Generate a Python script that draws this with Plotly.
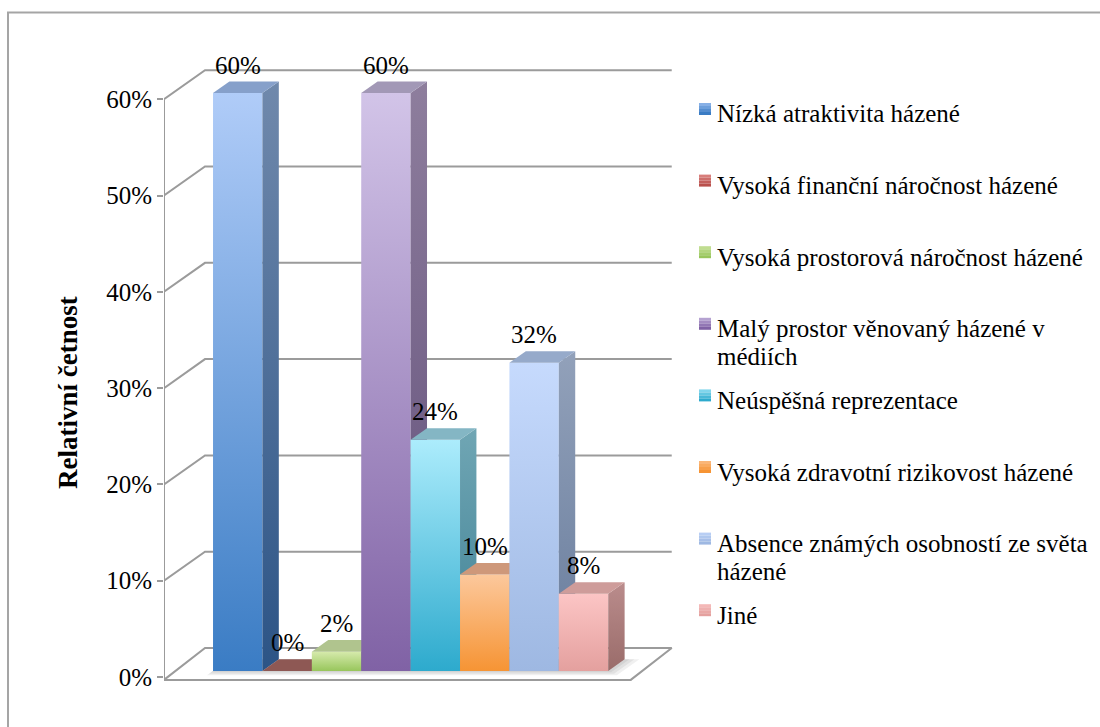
import textwrap
import plotly.graph_objects as go

# ---- data -------------------------------------------------------------
categories = [
    "Nízká atraktivita házené",
    "Vysoká finanční náročnost házené",
    "Vysoká prostorová náročnost házené",
    "Malý prostor věnovaný házené v médiích",
    "Neúspěšná reprezentace",
    "Vysoká zdravotní rizikovost házené",
    "Absence známých osobností ze světa házené",
    "Jiné",
]
values = [60, 0, 2, 60, 24, 10, 32, 8]
y_ticks = [0, 10, 20, 30, 40, 50, 60]
y_tick_labels = ["0%", "10%", "20%", "30%", "40%", "50%", "60%"]
axis_title = "Relativní četnost"

# ---- styling: (front bottom, front top, side bottom, side top, top face)
bar_styles = [
    ((58, 124, 196), (176, 204, 248), (44, 84, 134), (112, 137, 172), (134, 160, 202)),
    ((185, 80, 76), (232, 150, 148), (120, 60, 58), (150, 95, 92), (142, 88, 84)),
    ((152, 198, 92), (214, 234, 172), (110, 140, 70), (150, 175, 120), (176, 196, 142)),
    ((128, 98, 165), (210, 196, 232), (95, 76, 120), (142, 126, 157), (162, 152, 182)),
    ((45, 170, 205), (172, 236, 252), (62, 128, 148), (112, 166, 180), (132, 182, 196)),
    ((246, 148, 52), (252, 200, 156), (165, 110, 75), (195, 140, 105), (206, 152, 122)),
    ((158, 184, 226), (198, 218, 253), (104, 124, 156), (146, 161, 186), (150, 170, 202)),
    ((228, 160, 158), (252, 197, 197), (154, 108, 106), (186, 140, 140), (206, 156, 154)),
]

FONT = "Liberation Serif, Times New Roman, DejaVu Serif, serif"
GRID = "rgb(155,155,155)"


def rgb(c):
    return "rgb(%d,%d,%d)" % tuple(round(v) for v in c)


def mix(a, b, t):
    return tuple(a[k] + (b[k] - a[k]) * t for k in range(3))


# ---- figure geometry --------------------------------------------------
W, H = 1100, 727
ML, MR, MT, MB = 164, 420, 59, 43
PW, PH = W - ML - MR, H - MT - MB
X_PX, Y_PX = 49.4, 9.63           # pixels per bar slot / per percentage point
ZERO_PX = 677                     # pixel row of 0 % on the front plane
X_LEFT, X_RIGHT = -0.818, 8.63    # side wall and right floor edge
X_RANGE = [X_LEFT, X_LEFT + PW / X_PX]
Y_BOTTOM = (ZERO_PX - (MT + PH)) / Y_PX
Y_RANGE = [Y_BOTTOM, Y_BOTTOM + PH / Y_PX]

# oblique projection of the depth axis
DX, DY = 0.83, 3.01
Z_FRONT, Z_BACK = 0.21, 0.61
FLOOR_LIP = -0.3


def proj(x, y, z):
    return x + z * DX, y + z * DY


def poly(points):
    pts = [proj(*p) for p in points]
    pts.append(pts[0])
    return [p[0] for p in pts], [p[1] for p in pts]


def paper_x(px):
    return (px - ML) / PW


def paper_y(py):
    return (MT + PH - py) / PH


fig = go.Figure()

# side wall / back wall gridlines
gx, gy = [], []
for t in y_ticks[1:]:
    for p in [(X_LEFT, t, 0), (X_LEFT, t, 1), (X_RIGHT, t, 1)]:
        x, y = proj(*p)
        gx.append(x)
        gy.append(y)
    gx.append(None)
    gy.append(None)
fig.add_trace(go.Scatter(x=gx, y=gy, mode="lines", line=dict(color=GRID, width=2),
                         hoverinfo="skip", showlegend=False))

# floor
fx, fy = poly([(X_LEFT, FLOOR_LIP, 0), (X_RIGHT, FLOOR_LIP, 0), (X_RIGHT, 0, 1), (X_LEFT, 0, 1)])
fig.add_trace(go.Scatter(x=fx, y=fy, mode="lines", fill="toself", fillcolor="white",
                         line=dict(color=GRID, width=2), hoverinfo="skip", showlegend=False))

# soft shadow of the column block on the floor
n_bars = len(values)
for grow in (0.30, 0.20, 0.10):
    sx, sy = poly([(0, 0, Z_FRONT - grow * 0.5), (n_bars + grow, 0, Z_FRONT - grow * 0.5),
                   (n_bars + grow, 0, Z_BACK), (0, 0, Z_BACK)])
    fig.add_trace(go.Scatter(x=sx, y=sy, mode="lines", fill="toself",
                             fillcolor="rgba(0,0,0,0.06)", line=dict(width=0),
                             hoverinfo="skip", showlegend=False))

# vertical value axis line at the front edge
ax0 = proj(X_LEFT, FLOOR_LIP, 0)
ax1 = proj(X_LEFT, y_ticks[-1], 0)
fig.add_trace(go.Scatter(x=[ax0[0], ax1[0]], y=[ax0[1], ax1[1]], mode="lines",
                         line=dict(color=GRID, width=2), hoverinfo="skip", showlegend=False))


def face_trace(points, color=None, grad=None):
    xs, ys = poly(points)
    kw = dict(x=xs, y=ys, mode="lines", fill="toself", line=dict(width=0),
              hoverinfo="skip", showlegend=False)
    if grad is not None:
        kw["fillgradient"] = dict(type="vertical",
                                  colorscale=[[0, rgb(grad[0])], [1, rgb(grad[1])]])
    else:
        kw["fillcolor"] = rgb(color)
    return go.Scatter(**kw)


# 3D columns, painted left to right
for i, v in enumerate(values):
    fb, ft, sb, st, tc = bar_styles[i]
    x0, x1 = i, i + 1
    if v > 0:
        fig.add_trace(face_trace([(x0, 0, Z_FRONT), (x1, 0, Z_FRONT), (x1, v, Z_FRONT), (x0, v, Z_FRONT)],
                                 grad=(fb, ft)))
        fig.add_trace(face_trace([(x1, 0, Z_FRONT), (x1, 0, Z_BACK), (x1, v, Z_BACK), (x1, v, Z_FRONT)],
                                 grad=(sb, st)))
    fig.add_trace(face_trace([(x0, v, Z_FRONT), (x1, v, Z_FRONT), (x1, v, Z_BACK), (x0, v, Z_BACK)],
                             color=tc))

# value labels
for i, v in enumerate(values):
    lx, ly = proj(i + 0.5, v, Z_FRONT)
    fig.add_annotation(x=lx, y=ly, xref="x", yref="y", text=f"{v}%", showarrow=False,
                       yshift=28, font=dict(family=FONT, size=25, color="black"))

# legend: gradient swatch + wrapped label
LEG_TOP, LEG_STEP, LEG_LINE, SW = 103, 71.6, 27.5, 12
STRIPES = 4
for k, name in enumerate(categories):
    top = LEG_TOP + k * LEG_STEP
    fb, ft = bar_styles[k][0], bar_styles[k][1]
    for s in range(STRIPES):
        c = mix(mix(ft, fb, 0.35), fb, s / (STRIPES - 1))
        fig.add_shape(type="rect", xref="paper", yref="paper", layer="above",
                      x0=paper_x(699), x1=paper_x(699 + SW),
                      y0=paper_y(top + SW * (s + 1) / STRIPES), y1=paper_y(top + SW * s / STRIPES),
                      fillcolor=rgb(c), line=dict(width=0))
    for j, line in enumerate(textwrap.wrap(name, 34)):
        fig.add_annotation(x=paper_x(715), y=paper_y(top + 11 + j * LEG_LINE),
                           xref="paper", yref="paper", xanchor="left", yanchor="middle",
                           text=line, showarrow=False,
                           font=dict(family=FONT, size=25, color="black"))

# axis title
fig.add_annotation(x=paper_x(68), y=paper_y(393), xref="paper", yref="paper",
                   xanchor="center", yanchor="middle",
                   text=f"<b>{axis_title}</b>", textangle=-90, showarrow=False,
                   font=dict(family=FONT, size=27, color="black"))

# outer chart border
fig.add_shape(type="rect", xref="paper", yref="paper",
              x0=paper_x(8), x1=paper_x(1110), y0=paper_y(740), y1=paper_y(12.5),
              line=dict(color="rgb(165,165,165)", width=2), fillcolor="rgba(0,0,0,0)")

fig.update_layout(
    width=W, height=H,
    margin=dict(l=ML, r=MR, t=MT, b=MB),
    paper_bgcolor="white", plot_bgcolor="white",
    showlegend=False,
    xaxis=dict(range=X_RANGE, visible=False, fixedrange=True),
    yaxis=dict(range=Y_RANGE, tickmode="array", tickvals=y_ticks, ticktext=y_tick_labels,
               ticks="outside", ticklen=6, tickwidth=2, tickcolor=GRID,
               showgrid=False, zeroline=False, showline=False,
               tickfont=dict(family=FONT, size=25, color="black"), fixedrange=True),
)

fig.write_html("out.html")
